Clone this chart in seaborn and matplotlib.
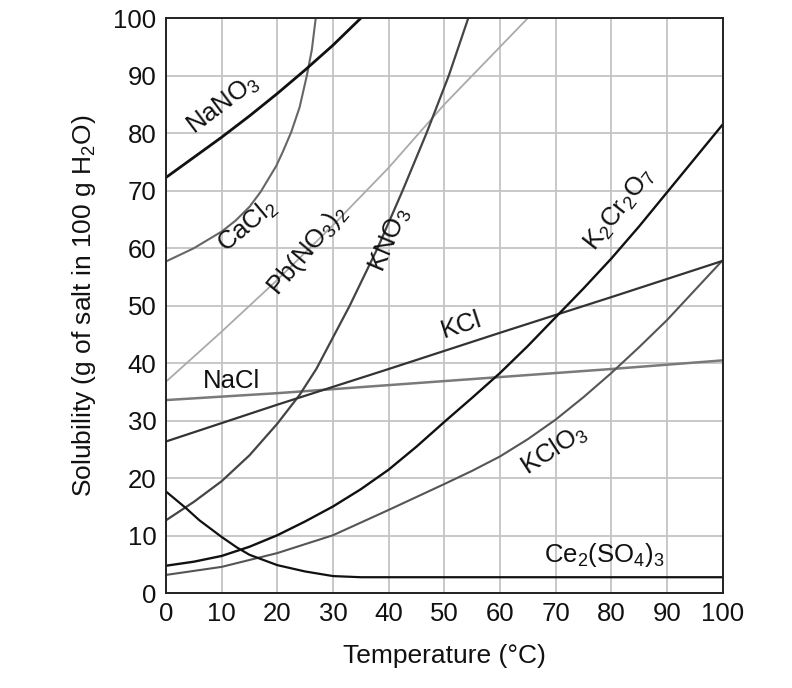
import numpy as np
import pandas as pd
import seaborn as sns
import matplotlib.pyplot as plt

# solubility readings (temperature in C, g salt per 100 g water)
nano3_t = [0, 5, 10, 15, 20, 25, 30, 35]
nano3_s = [72.3, 75.8, 79.3, 83, 86.9, 91, 95.3, 100]

cacl2_t = [0, 5, 10, 12.5, 15, 17, 19.8, 21, 22.5, 24, 25.3, 26.2, 26.9]
cacl2_s = [57.7, 60, 62.9, 64.8, 67.2, 69.8, 74.3, 76.8, 80.2, 84.5, 90, 94.5, 100]

pbno3_t = [0, 10, 20, 30, 40, 50, 60, 65]
pbno3_s = [36.8, 45.5, 54.5, 64, 74, 85, 95, 100]

kno3_t = [0, 5, 10, 15, 20, 24, 27, 30, 33, 38, 42.5, 46.8, 50.8, 54.3]
kno3_s = [12.7, 15.9, 19.5, 24, 29.5, 34.5, 39, 44.5, 50, 60, 70, 80, 90, 100]

kcl_t = [0, 20, 40, 60, 80, 100]
kcl_s = [26.4, 32.8, 39, 45.3, 51.5, 57.8]

nacl_t = [0, 20, 40, 60, 80, 100]
nacl_s = [33.6, 34.8, 36.2, 37.6, 39, 40.5]

k2cr2o7_t = [0, 5, 10, 15, 20, 25, 30, 35, 40, 45, 50, 55, 60, 65, 70, 75, 80, 85, 90, 95, 100]
k2cr2o7_s = [4.8, 5.5, 6.5, 8.1, 10.1, 12.5, 15.1, 18.1, 21.5, 25.5, 29.8, 34, 38.3, 43, 48, 53, 58.2, 63.8, 69.7, 75.6, 81.5]

kclo3_t = [0, 10, 20, 30, 40, 50, 55, 60, 65, 70, 75, 80, 85, 90, 95, 100]
kclo3_s = [3.2, 4.6, 7.0, 10.1, 14.5, 19, 21.3, 23.8, 26.8, 30.2, 34.1, 38.3, 42.8, 47.5, 52.7, 57.9]

ce2so4_t = [0, 3.6, 6, 10, 12.7, 15, 20, 25, 30, 35, 100]
ce2so4_s = [17.7, 14.8, 12.7, 9.8, 8.0, 6.7, 4.9, 3.8, 3.0, 2.8, 2.8]

ticks = list(range(0, 101, 10))

sns.set_theme(style="white")
plt.rcParams['font.family'] = ['Liberation Sans', 'DejaVu Sans']
plt.rcParams['mathtext.default'] = 'regular'

fig = plt.figure(figsize=(7.92, 6.88), dpi=100)
ax = fig.add_axes([0.2096, 0.1376, 0.7028, 0.836])

# curves: (temps, values, colour, width)
curves = [
    (pbno3_t, pbno3_s, '#aaaaaa', 1.3),
    (nacl_t, nacl_s, '#7a7a7a', 1.8),
    (cacl2_t, cacl2_s, '#666666', 1.5),
    (kclo3_t, kclo3_s, '#555555', 1.5),
    (kno3_t, kno3_s, '#444444', 1.6),
    (kcl_t, kcl_s, '#333333', 1.6),
    (k2cr2o7_t, k2cr2o7_s, '#111111', 1.7),
    (ce2so4_t, ce2so4_s, '#111111', 1.6),
    (nano3_t, nano3_s, '#111111', 2.0),
]
for t, s, c, lw in curves:
    sns.lineplot(x=t, y=s, ax=ax, color=c, linewidth=lw, sort=False)

ax.set_xlim(0, 100)
ax.set_ylim(0, 100)
ax.set_xticks(ticks)
ax.set_yticks(ticks)
ax.grid(True, color='#c4c4c4', linewidth=1.3)
ax.set_axisbelow(True)
ax.tick_params(axis='both', length=0, labelsize=18.5, colors='#111111')
ax.tick_params(axis='y', pad=7)
ax.tick_params(axis='x', pad=6)
for sp in ax.spines.values():
    sp.set_color('#222222')
    sp.set_linewidth(1.4)

ax.set_xlabel('Temperature (°C)', fontsize=19, color='#111111', labelpad=13)
ax.set_ylabel('Solubility (g of salt in 100 g H$_2$O)', fontsize=19, color='#111111', labelpad=11)

# curve labels
lab = dict(fontsize=18.5, color='#111111', ha='center', va='center')
ax.text(10.2, 85.0, 'NaNO$_3$', rotation=37, **lab)
ax.text(14.7, 64.0, 'CaCl$_2$', rotation=40, **lab)
ax.text(25.5, 59.7, 'Pb(NO$_3$)$_2$', rotation=50, **lab)
ax.text(40.2, 61.4, 'KNO$_3$', rotation=67, **lab)
ax.text(53.1, 46.7, 'KCl', rotation=18, **lab)
ax.text(11.8, 36.9, 'NaCl', rotation=0, **lab)
ax.text(81.5, 66.7, 'K$_2$Cr$_2$O$_7$', rotation=52, **lab)
ax.text(69.8, 25.0, 'KClO$_3$', rotation=33, **lab)
ax.text(78.8, 6.7, 'Ce$_2$(SO$_4$)$_3$', rotation=0, **lab)

fig.savefig('out.png', dpi=100)
